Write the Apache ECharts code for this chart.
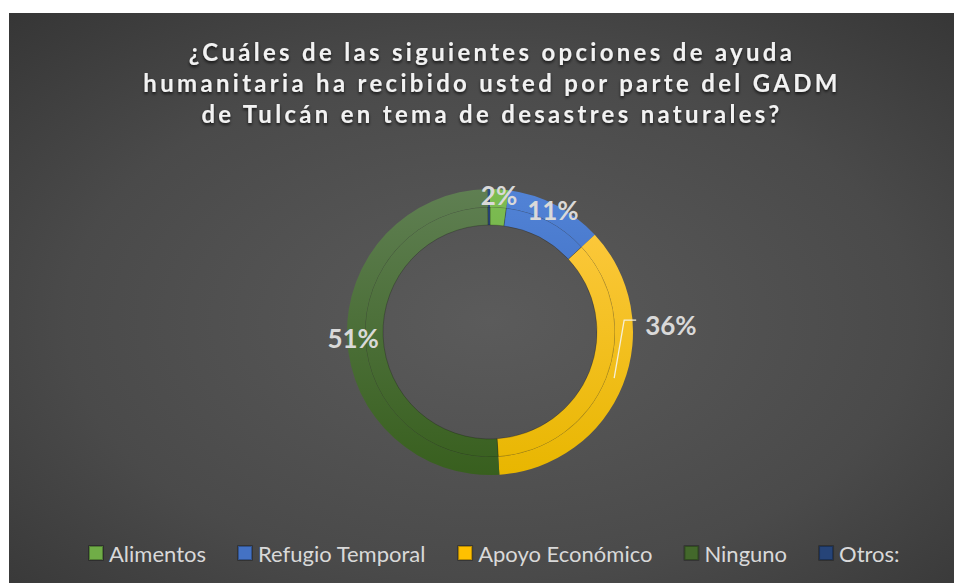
<!DOCTYPE html>
<html>
<head>
<meta charset="utf-8">
<script src="https://cdn.jsdelivr.net/npm/echarts@6/dist/echarts.min.js"></script>
<style>
  html, body { margin: 0; padding: 0; background: #fff; overflow: hidden; }
  #figure { width: 954px; height: 583px; }
  /* the title is letter-spaced like the original */
  #figure text[style*="24px"] { letter-spacing: 3.3px; }
</style>
</head>
<body>
<div id="figure"></div>
<script>
var titleText = '¿Cuáles de las siguientes opciones de ayuda\nhumanitaria ha recibido usted por parte del GADM\nde Tulcán en tema de desastres naturales?';

var categories = ['Alimentos', 'Refugio Temporal', 'Apoyo Económico', 'Ninguno', 'Otros:'];
var responses = [8, 42, 137, 194, 1];

// shading of each slice, top to bottom, and the flat legend colour
var topColors = ['#7dbd52', '#5283d6', '#ffcb45', '#5f7f52', '#2c4c84'];
var bottomColors = ['#5f9a38', '#2f5fb3', '#e8b600', '#385f1e', '#203c6c'];
var legendColors = ['#70AD47', '#4472C4', '#FFC000', '#43682B', '#264478'];

var cx = 490, cy = 332;
var outsideLabel = 'Apoyo Económico';

function sliceColor(i) {
    return new echarts.graphic.LinearGradient(0, cy - 143, 0, cy + 143, [
        { offset: 0, color: topColors[i] },
        { offset: 1, color: bottomColors[i] }
    ], true);
}

var percentLabel = {
    color: '#d9d9d9',
    fontFamily: 'Lato',
    fontWeight: 'bold',
    fontSize: 26,
    formatter: function (p) {
        var pct = Math.round(p.percent);
        return pct < 1 ? '' : pct + '%';
    }
};

var innerData = categories.map(function (name, i) {
    return { name: name, value: responses[i], itemStyle: { color: sliceColor(i) } };
});
var outerData = categories.map(function (name, i) {
    var d = { name: name, value: responses[i], itemStyle: { color: sliceColor(i) } };
    if (name === outsideLabel) {
        d.label = { show: false };
    }
    return d;
});
// invisible copy on top, carrying the one label that sits outside so its leader line shows over the ring
var leaderData = categories.map(function (name, i) {
    var d = { name: name, value: responses[i] };
    if (name === outsideLabel) {
        d.label = { show: true };
        d.labelLine = { show: true };
    }
    return d;
});

var figure = echarts.init(document.getElementById('figure'), null, { renderer: 'svg' });
var option = {
    backgroundColor: '#ffffff',
    animation: false,
    graphic: [{
        type: 'rect',
        z: -10,
        silent: true,
        shape: { x: 9, y: 13, width: 962, height: 580 },
        style: {
            fill: new echarts.graphic.RadialGradient(0.5, 0.53, 0.98, [
                { offset: 0, color: '#5b5b5b' },
                { offset: 0.45, color: '#4a4a4a' },
                { offset: 1, color: '#242424' }
            ])
        }
    }],
    title: {
        text: titleText,
        left: cx + 2,
        top: 36,
        padding: 0,
        textAlign: 'center',
        textStyle: {
            color: '#f2f2f2',
            fontFamily: 'Lato',
            fontWeight: 'bold',
            fontSize: 24,
            lineHeight: 31,
            textShadowColor: 'rgba(0,0,0,0.7)',
            textShadowBlur: 3,
            textShadowOffsetY: 2
        }
    },
    legend: {
        left: 83,
        top: 537,
        icon: 'rect',
        itemWidth: 14,
        itemHeight: 14,
        itemGap: 31,
        selectedMode: false,
        textStyle: {
            color: '#d9d9d9',
            fontFamily: 'Lato',
            fontSize: 22,
            padding: [0, 0, 0, 1]
        },
        data: categories.map(function (name, i) {
            return { name: name, itemStyle: { color: legendColors[i] } };
        })
    },
    series: [{
        name: 'interior',
        type: 'pie',
        center: [cx, cy],
        radius: [107, 125],
        startAngle: 90,
        clockwise: true,
        silent: true,
        itemStyle: { borderColor: 'rgba(0,0,0,0.28)', borderWidth: 0.8 },
        label: { show: false },
        labelLine: { show: false },
        data: innerData
    }, {
        name: 'exterior',
        type: 'pie',
        center: [cx, cy],
        radius: [125, 143],
        startAngle: 90,
        clockwise: true,
        silent: true,
        label: Object.assign({ show: true, position: 'inside' }, percentLabel),
        labelLine: { show: false },
        data: outerData
    }, {
        name: 'leader',
        type: 'pie',
        z: 3,
        center: [cx, cy],
        radius: [107, 125],
        startAngle: 90,
        clockwise: true,
        silent: true,
        itemStyle: { color: 'rgba(0,0,0,0)' },
        label: Object.assign({ show: false, position: 'outside' }, percentLabel),
        labelLine: {
            show: false,
            length: 6,
            length2: 12,
            lineStyle: { color: '#f5efd8', width: 1.3 }
        },
        labelLayout: function (p) {
            if (!p.labelLinePoints) {
                return {};
            }
            // lift the label beside the ring and bend its leader line up to it
            var start = p.labelLinePoints[0];
            var lx = start[0] + 39;
            var ly = start[1] - 53;
            return {
                x: lx,
                y: ly,
                labelLinePoints: [
                    [start[0] + 8, start[1]],
                    [lx - 21, ly - 5],
                    [lx - 9, ly - 5]
                ]
            };
        },
        data: leaderData
    }]
};

figure.setOption(option);
</script>
</body>
</html>
